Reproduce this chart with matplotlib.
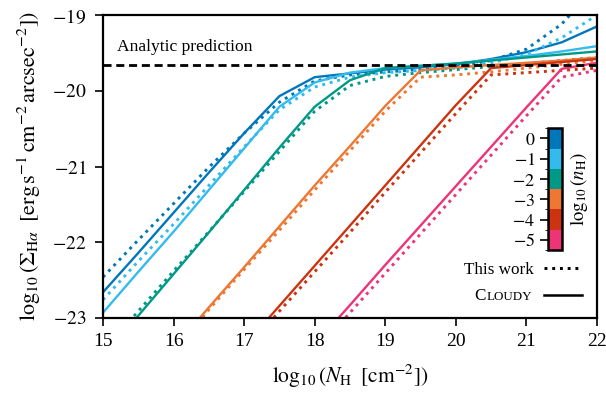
import numpy as np
import matplotlib
matplotlib.use('Agg')
import matplotlib.pyplot as plt
from matplotlib.colors import ListedColormap, BoundaryNorm
from matplotlib.transforms import IdentityTransform
import matplotlib.cm as cm

plt.rcParams['font.family'] = 'serif'
plt.rcParams['font.serif'] = ['Liberation Serif', 'DejaVu Serif']
plt.rcParams['mathtext.fontset'] = 'stix'

# column density grid, log10(N_H)
logNH = [15.0, 15.5, 16.0, 16.5, 17.0, 17.5, 18.0, 18.5, 19.0, 19.5, 20.0, 20.5, 21.0, 21.5, 22.0]

# log10(n_H) values and colours
lognH = [0, -1, -2, -3, -4, -5]
colors = ['#0077BB', '#33BBEE', '#009988', '#EE7733', '#CC3311', '#EE3377']

# Cloudy (solid)
cloudy = {
    0:  [-22.66, -22.14, -21.61, -21.08, -20.56, -20.07, -19.82, -19.77, -19.72, -19.69, -19.65, -19.58, -19.49, -19.36, -19.15],
    -1: [-22.93, -22.39, -21.86, -21.31, -20.76, -20.21, -19.89, -19.76, -19.70, -19.67, -19.64, -19.59, -19.54, -19.48, -19.41],
    -2: [-23.52, -22.97, -22.42, -21.87, -21.31, -20.75, -20.21, -19.86, -19.70, -19.67, -19.64, -19.60, -19.56, -19.52, -19.48],
    -3: [-24.45, -23.95, -23.40, -22.86, -22.33, -21.79, -21.25, -20.73, -20.20, -19.73, -19.69, -19.66, -19.63, -19.60, -19.56],
    -4: [-25.45, -24.95, -24.45, -23.90, -23.37, -22.84, -22.31, -21.78, -21.25, -20.72, -20.19, -19.70, -19.66, -19.62, -19.58],
    -5: [-26.45, -25.95, -25.45, -24.93, -24.40, -23.87, -23.35, -22.83, -22.30, -21.78, -21.26, -20.74, -20.22, -19.71, -19.63],
}

# this work (dotted)
thiswork = {
    0:  [-22.46, -21.97, -21.49, -21.01, -20.56, -20.15, -19.87, -19.79, -19.75, -19.72, -19.68, -19.60, -19.45, -19.12, -18.60],
    -1: [-22.76, -22.25, -21.76, -21.25, -20.74, -20.25, -19.95, -19.82, -19.76, -19.73, -19.70, -19.63, -19.52, -19.30, -19.00],
    -2: [-23.43, -22.91, -22.38, -21.86, -21.33, -20.80, -20.27, -19.93, -19.81, -19.76, -19.72, -19.68, -19.64, -19.60, -19.56],
    -3: [-24.45, -23.95, -23.44, -22.89, -22.36, -21.84, -21.31, -20.79, -20.27, -19.82, -19.79, -19.75, -19.70, -19.65, -19.60],
    -4: [-25.45, -24.95, -24.45, -23.95, -23.44, -22.91, -22.39, -21.87, -21.34, -20.82, -20.30, -19.79, -19.76, -19.73, -19.70],
    -5: [-26.45, -25.95, -25.45, -24.95, -24.47, -23.97, -23.45, -22.93, -22.41, -21.89, -21.37, -20.85, -20.33, -19.82, -19.73],
}

analytic = -19.66

xticks = [15, 16, 17, 18, 19, 20, 21, 22]
yticks = [-23, -22, -21, -20, -19]
ytick_labels = [r'$-23$', r'$-22$', r'$-21$', r'$-20$', r'$-19$']
cbar_labels = [r'$0$', r'$-1$', r'$-2$', r'$-3$', r'$-4$', r'$-5$']

fig = plt.figure(figsize=(6.06, 3.97), dpi=100)
ax = fig.add_axes([0.170, 0.199, 0.815, 0.763])

for n, c in zip(lognH, colors):
    ax.plot(logNH, thiswork[n], ':', color=c, lw=2.1)
    ax.plot(logNH, cloudy[n], '-', color=c, lw=1.7)

ax.axhline(analytic, color='k', ls='--', lw=2.0, dashes=(2.9, 1.7))
ax.text(15.2, -19.42, 'Analytic prediction', fontsize=12.6, va='center', ha='left')

ax.set_xlim(15, 22)
ax.set_ylim(-23, -19)
ax.set_xticks(xticks)
ax.set_xticklabels([str(t) for t in xticks])
ax.set_yticks(yticks)
ax.set_yticklabels(ytick_labels)
ax.tick_params(labelsize=14, length=6, width=1.2, direction='out')
ax.tick_params(axis='y', pad=6)
ax.tick_params(axis='x', pad=5)
for sp in ax.spines.values():
    sp.set_linewidth(1.6)

ax.set_xlabel(r'$\log_{10}(N_{\mathrm{H}}\;\;[\mathrm{cm}^{-2}])$', fontsize=15.5, labelpad=9)
ax.set_ylabel(r'$\log_{10}(\Sigma_{\mathrm{H}\alpha}\;\;[\mathrm{erg\,s}^{-1}\,\mathrm{cm}^{-2}\,\mathrm{arcsec}^{-2}])$',
              fontsize=16)
ax.yaxis.set_label_coords(-0.122, 0.5)

# legend for line styles; the Cloudy label is drawn by hand in small caps
h1, = ax.plot([], [], ':', color='k', lw=2.1, label='This work')
h2, = ax.plot([], [], '-', color='k', lw=1.8, label='CLOUDY')
leg = ax.legend(handles=[h1, h2], loc='lower right', bbox_to_anchor=(1.0, -0.005), frameon=False,
                markerfirst=False, fontsize=12.3, handlelength=2.2, handletextpad=0.6, labelspacing=0.65)
hidden = leg.get_texts()[1]
hidden.set_fontsize(10.2)
hidden.set_alpha(0)

# discrete colourbar for n_H
cax = fig.add_axes([0.904, 0.370, 0.024, 0.307])
cmap = ListedColormap(colors[::-1])
norm = BoundaryNorm(np.arange(-5.5, 1.0, 1.0), cmap.N)
cb = fig.colorbar(cm.ScalarMappable(norm=norm, cmap=cmap), cax=cax, ticks=lognH)
cb.set_ticklabels(cbar_labels)
cb.outline.set_linewidth(1.8)
cax.yaxis.set_ticks_position('left')
cax.yaxis.set_label_position('right')
cax.tick_params(labelsize=13, length=6, width=1.2, pad=3)
cb.set_label(r'$\log_{10}(n_{\mathrm{H}})$', fontsize=13.5, labelpad=4)

fig.canvas.draw()
bb = hidden.get_window_extent()
tc = fig.text(bb.x0, bb.y0, 'C', fontsize=12.3, ha='left', va='bottom', transform=IdentityTransform())
fig.canvas.draw()
bc = tc.get_window_extent()
fig.text(bc.x1 + 0.3, bb.y0 + 0.7, 'LOUDY', fontsize=9.4, ha='left', va='bottom',
         transform=IdentityTransform())

fig.savefig('out.png', dpi=100)
